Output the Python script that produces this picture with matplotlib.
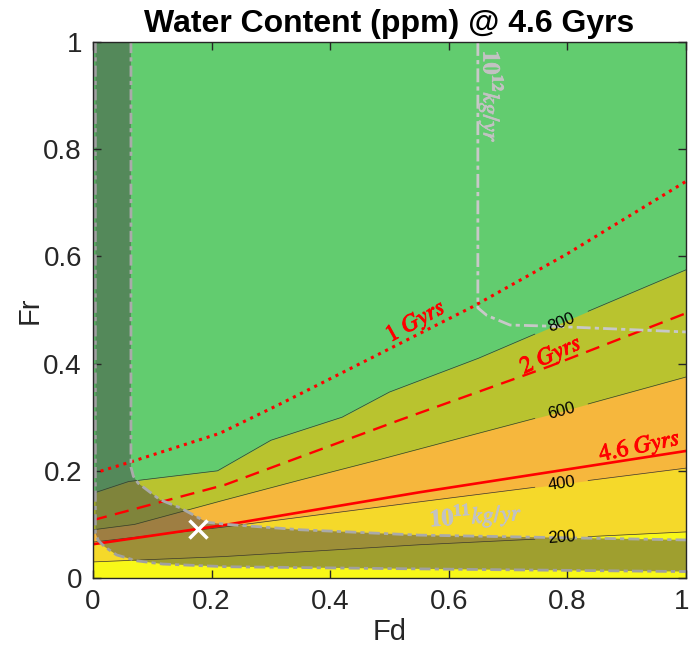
import numpy as np
import matplotlib.pyplot as plt
import matplotlib.patheffects as pe
from matplotlib.transforms import ScaledTranslation

# water content contours (ppm): Fd -> Fr
fd_800 = [0.0, 0.06, 0.21, 0.30, 0.42, 0.50, 0.65, 0.84, 1.0]
fr_800 = [0.158, 0.18, 0.20, 0.257, 0.30, 0.347, 0.41, 0.50, 0.575]
fd_600 = [0.0, 0.07, 0.22, 0.35, 0.48, 0.65, 0.78, 1.0]
fr_600 = [0.09, 0.10, 0.145, 0.183, 0.22, 0.27, 0.308, 0.375]
fd_400 = [0.0, 0.22, 0.55, 1.0]
fr_400 = [0.067, 0.095, 0.142, 0.205]
fd_200 = [0.0, 0.22, 0.55, 1.0]
fr_200 = [0.03, 0.04, 0.062, 0.086]
levels = [200, 400, 600, 800]

# age curves
fd_1g = [0.0, 0.062, 0.214, 0.32, 0.64, 0.8, 1.0]
fr_1g = [0.195, 0.216, 0.27, 0.327, 0.506, 0.605, 0.74]
fd_2g = [0.0, 0.223, 0.518, 0.77, 1.0]
fr_2g = [0.108, 0.174, 0.295, 0.395, 0.494]
fd_46g = [0.0, 0.223, 0.551, 1.0]
fr_46g = [0.063, 0.099, 0.160, 0.237]

# mass flux boundaries
fd_11_in = [0.064, 0.064, 0.068, 0.076, 0.113, 0.147, 0.192, 0.226, 0.35, 0.55, 1.0]
fr_11_in = [1.0, 0.207, 0.19, 0.177, 0.146, 0.131, 0.104, 0.10, 0.09, 0.08, 0.071]
fd_11_out = [0.004, 0.004, 0.009, 0.02, 0.04, 0.074, 0.118, 0.226, 0.55, 1.0]
fr_11_out = [1.0, 0.084, 0.07, 0.058, 0.043, 0.032, 0.026, 0.021, 0.017, 0.012]
fd_12 = [0.649, 0.649, 0.664, 0.703, 0.766, 1.0]
fr_12 = [1.0, 0.504, 0.49, 0.472, 0.47, 0.459]

present = (0.177, 0.091)

c_green = '#62cc6f'
c_olive = '#b9c32f'
c_orange = '#f6b73d'
c_yellow = '#f5d92a'
c_bright = '#f8f818'

plt.rcParams['font.family'] = ['Liberation Sans', 'DejaVu Sans']

fig = plt.figure(figsize=(6.91, 6.49), dpi=100)
ax = fig.add_axes([93/691, 71/649, 593/691, 536/649])

ax.fill_between([0, 1], 0, 1, color=c_green, lw=0)
ax.fill_between(fd_800, 0, fr_800, color=c_olive, lw=0)
ax.fill_between(fd_600, 0, fr_600, color=c_orange, lw=0)
ax.fill_between(fd_400, 0, fr_400, color=c_yellow, lw=0)
ax.fill_between(fd_200, 0, fr_200, color=c_bright, lw=0)

# contour lines with a gap for the label
lab_fd = 0.79
lab_rot = {200: 4, 400: 8, 600: 15, 800: 22}
for lev, xs, ys in zip(levels, [fd_200, fd_400, fd_600, fd_800], [fr_200, fr_400, fr_600, fr_800]):
    xs = np.array(xs); ys = np.array(ys)
    a, b = lab_fd - 0.045, lab_fd + 0.045
    left = xs < a
    right = xs > b
    ax.plot(np.r_[xs[left], a], np.r_[ys[left], np.interp(a, xs, ys)], color='#3a3a2a', lw=0.5)
    ax.plot(np.r_[b, xs[right]], np.r_[np.interp(b, xs, ys), ys[right]], color='#3a3a2a', lw=0.5)
    ax.text(lab_fd, np.interp(lab_fd, xs, ys), str(lev), fontsize=12, rotation=lab_rot[lev],
            ha='center', va='center', rotation_mode='anchor')

# age lines
ax.plot(fd_1g, fr_1g, color='red', lw=2.2, linestyle=(0, (1, 1.6)))
ax.plot(fd_2g, fr_2g, color='red', lw=1.7, linestyle=(0, (6, 3.6)))
ax.plot(fd_46g, fr_46g, color='red', lw=1.9)
lab_kw = dict(color='red', fontsize=17, math_fontfamily='stix',
              ha='center', va='center', rotation_mode='anchor',
              path_effects=[pe.withStroke(linewidth=0.7, foreground='red')])
ax.text(0.545, 0.478, r'$1\ Gyrs$', rotation=29, **lab_kw)
ax.text(0.773, 0.415, r'$2\ Gyrs$', rotation=24, **lab_kw)
ax.text(0.922, 0.246, r'$4.6\ Gyrs$', rotation=12, **lab_kw)

# 10^11 kg/yr shaded band
poly_x = list(fd_11_in) + list(fd_11_out[::-1])
poly_y = list(fr_11_in) + list(fr_11_out[::-1])
ax.fill(poly_x, poly_y, color=(0.28, 0.28, 0.28), alpha=0.5, lw=0)
ax.plot(fd_11_in, fr_11_in, color='#aaaaaa', lw=2, linestyle=(0, (4, 1.5, 1.5, 1.5)))
ax.plot(fd_11_out, fr_11_out, color='#a0a0a0', lw=2, linestyle=(0, (4, 1.5, 1.5, 1.5)))
ax.plot(fd_12, fr_12, color='#c8c8c8', lw=2, linestyle=(0, (5, 1.5, 1.5, 1.5)))

gray_kw = dict(color='#c2c2c2', fontsize=17, math_fontfamily='stix', ha='center', va='center',
               rotation_mode='anchor',
               path_effects=[pe.withStroke(linewidth=0.6, foreground='#c2c2c2')])
ax.text(0.646, 0.116, r'$\mathbf{10^{11}}kg/yr$', rotation=4, **gray_kw)
ax.text(0.671, 0.897, r'$\mathbf{10^{12}}kg/yr$', rotation=-90, **gray_kw)

ax.plot(*present, marker='x', color='white', ms=13, mew=2.5, ls='none')

ax.set_xlim(0, 1)
ax.set_ylim(0, 1)
ax.set_xticks([0, 0.2, 0.4, 0.6, 0.8, 1])
ax.set_yticks([0, 0.2, 0.4, 0.6, 0.8, 1])
ax.set_xticklabels(['0', '0.2', '0.4', '0.6', '0.8', '1'])
ax.set_yticklabels(['0', '0.2', '0.4', '0.6', '0.8', '1'])
ax.tick_params(direction='in', top=True, right=True, length=6, width=1, labelsize=20,
               colors='#262626', pad=8)
last = ax.get_xticklabels()[-1]
last.set_transform(last.get_transform() + ScaledTranslation(-3/72, 0, fig.dpi_scale_trans))
for s in ax.spines.values():
    s.set_color('#262626')
    s.set_linewidth(1)
ax.set_xlabel('Fd', fontsize=21, color='#262626', labelpad=2)
ax.set_ylabel('Fr', fontsize=21, color='#262626', labelpad=0)
ax.set_title('Water Content (ppm) @ 4.6 Gyrs', fontsize=23, weight='bold', pad=7)

fig.savefig('out.png', dpi=100)
